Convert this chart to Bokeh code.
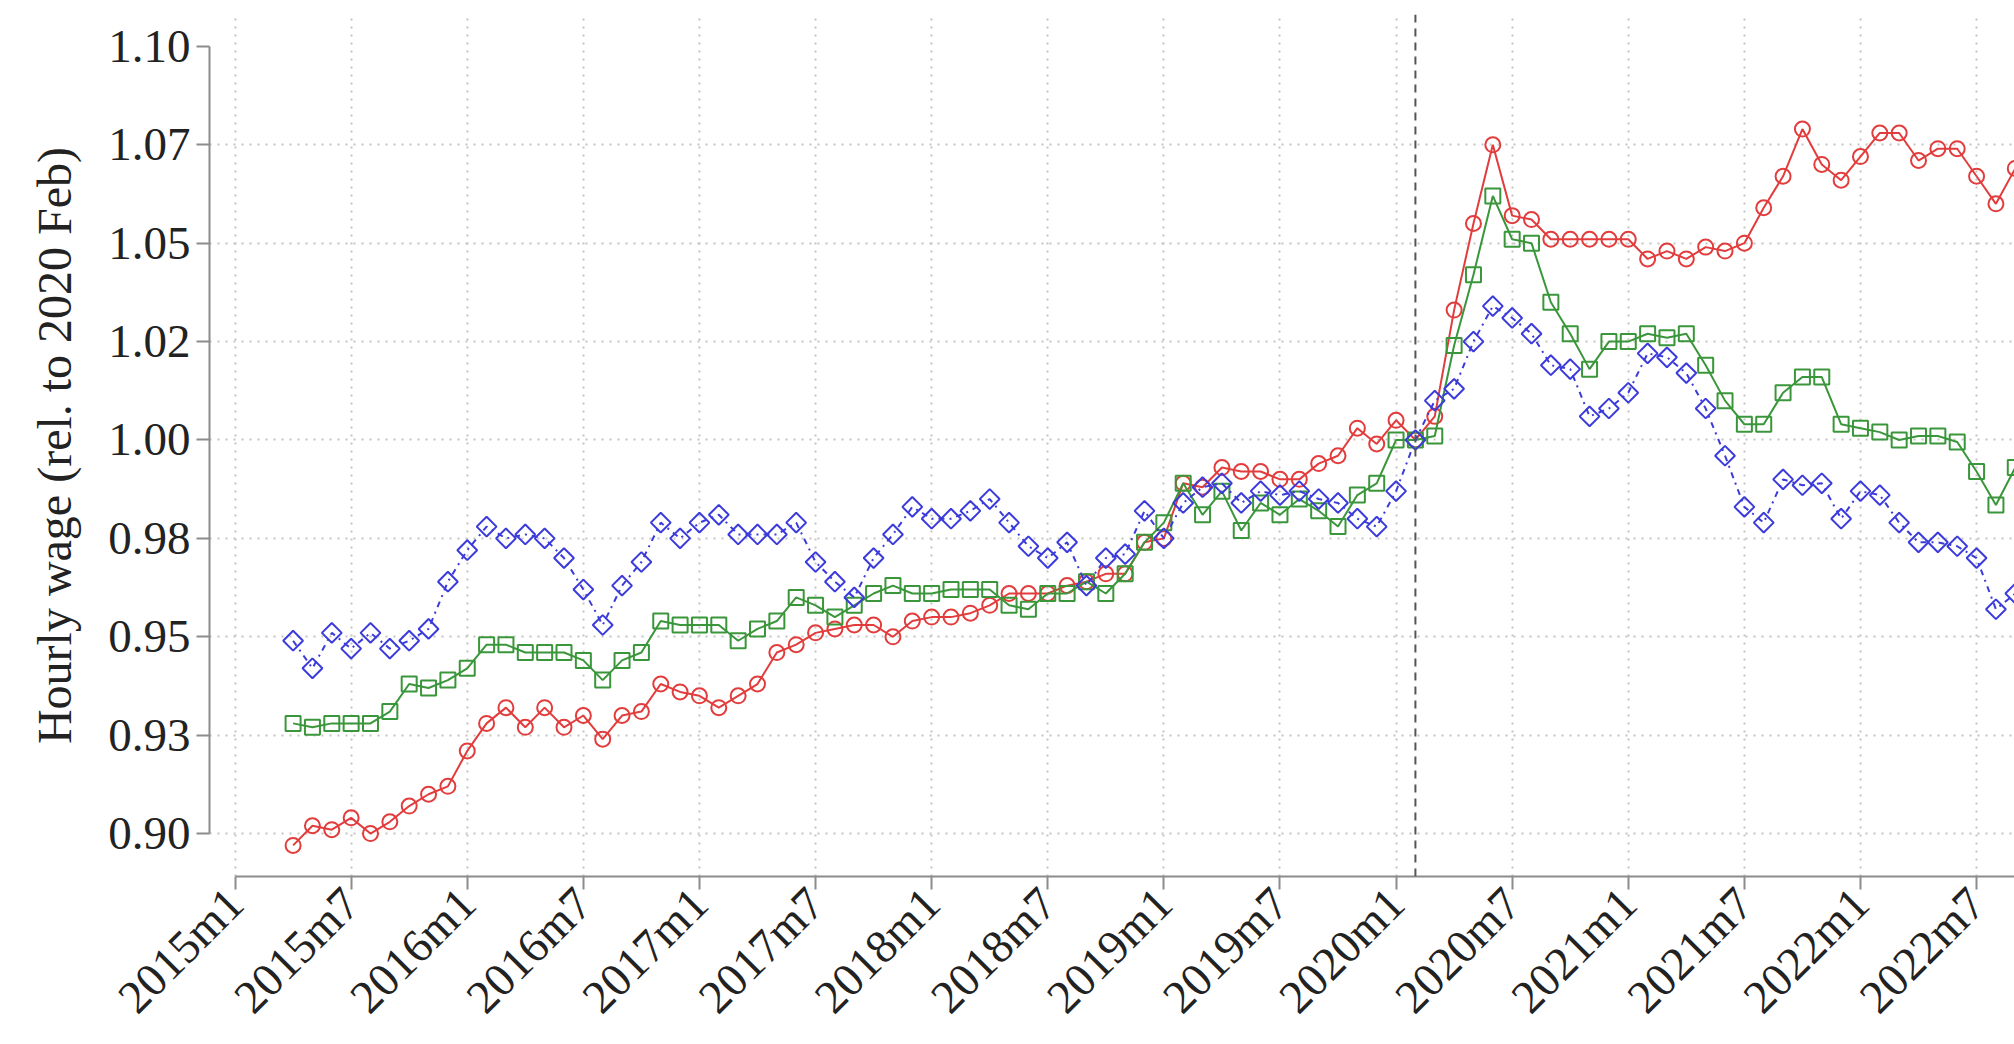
import math
from bokeh.plotting import figure
from bokeh.models import FixedTicker, Range1d, Span
from bokeh.embed import file_html
from bokeh.resources import INLINE

# Monthly hourly wage indices, 2015m4 .. 2022m9, relative to 2020 Feb
first_year, first_month = 2015, 4

red_wage = [
    0.897, 0.902, 0.901, 0.904, 0.900, 0.903, 0.907, 0.910, 0.912,
    0.921, 0.928, 0.932, 0.927, 0.932, 0.927, 0.930, 0.924, 0.930, 0.931, 0.938, 0.936,
    0.935, 0.932, 0.935, 0.938, 0.946, 0.948, 0.951, 0.952, 0.953, 0.953, 0.950, 0.954,
    0.955, 0.955, 0.956, 0.958, 0.961, 0.961, 0.961, 0.963, 0.964, 0.966, 0.966, 0.974,
    0.975, 0.989, 0.988, 0.993, 0.992, 0.992, 0.990, 0.990, 0.994, 0.996, 1.003, 0.999,
    1.005, 1.000, 1.006, 1.033, 1.055, 1.075, 1.057, 1.056, 1.051, 1.051, 1.051, 1.051,
    1.051, 1.046, 1.048, 1.046, 1.049, 1.048, 1.050, 1.059, 1.067, 1.079, 1.070, 1.066,
    1.072, 1.078, 1.078, 1.071, 1.074, 1.074, 1.067, 1.060, 1.069,
]

green_wage = [
    0.928, 0.927, 0.928, 0.928, 0.928, 0.931, 0.938, 0.937, 0.939,
    0.942, 0.948, 0.948, 0.946, 0.946, 0.946, 0.944, 0.939, 0.944, 0.946, 0.954, 0.953,
    0.953, 0.953, 0.949, 0.952, 0.954, 0.960, 0.958, 0.955, 0.958, 0.961, 0.963, 0.961,
    0.961, 0.962, 0.962, 0.962, 0.958, 0.957, 0.961, 0.961, 0.964, 0.961, 0.966, 0.974,
    0.979, 0.989, 0.981, 0.987, 0.977, 0.984, 0.981, 0.985, 0.982, 0.978, 0.986, 0.989,
    1.000, 1.000, 1.001, 1.024, 1.042, 1.062, 1.051, 1.050, 1.035, 1.027, 1.018, 1.025,
    1.025, 1.027, 1.026, 1.027, 1.019, 1.010, 1.004, 1.004, 1.012, 1.016, 1.016, 1.004,
    1.003, 1.002, 1.000, 1.001, 1.001, 0.9995, 0.992, 0.9835, 0.993,
]

blue_wage = [
    0.949, 0.942, 0.951, 0.947, 0.951, 0.947, 0.949, 0.952, 0.964,
    0.972, 0.978, 0.975, 0.976, 0.975, 0.970, 0.962, 0.953, 0.963, 0.969, 0.979, 0.975,
    0.979, 0.981, 0.976, 0.976, 0.976, 0.979, 0.969, 0.964, 0.960, 0.970, 0.976, 0.983,
    0.980, 0.980, 0.982, 0.985, 0.979, 0.973, 0.970, 0.974, 0.963, 0.970, 0.971, 0.982,
    0.975, 0.984, 0.988, 0.989, 0.984, 0.987, 0.986, 0.987, 0.985, 0.984, 0.980, 0.978,
    0.987, 1.000, 1.010, 1.013, 1.025, 1.034, 1.031, 1.027, 1.019, 1.018, 1.006, 1.008,
    1.012, 1.022, 1.021, 1.017, 1.008, 0.996, 0.983, 0.979, 0.990, 0.9885, 0.989, 0.980,
    0.987, 0.986, 0.979, 0.974, 0.974, 0.973, 0.970, 0.957, 0.961,
]

# y ticks and their printed labels
y_ticks = [0.900, 0.925, 0.950, 0.975, 1.000, 1.025, 1.050, 1.075, 1.100]
y_labels = ["0.90", "0.93", "0.95", "0.98", "1.00", "1.02", "1.05", "1.07", "1.10"]

# x ticks every six months, counted in months from 2015m1
x_ticks = list(range(0, 91, 6))
x_labels = [f"{2015 + t // 12}m{t % 12 + 1}" for t in x_ticks]

base_month = (2020 - 2015) * 12 + 1  # 2020m2

start = (first_year - 2015) * 12 + (first_month - 1)
months = [start + i for i in range(len(red_wage))]

FONT = "Liberation Serif"
RED, GREEN, BLUE = "#E23C3C", "#3A963A", "#3B3BDB"

p = figure(
    width=2014, height=1044,
    x_range=Range1d(-1.32, 91.96), y_range=Range1d(0.8891, 1.1081),
    output_backend="svg", toolbar_location=None,
    min_border_left=209, min_border_right=0,
    min_border_top=14, min_border_bottom=158,
)
p.outline_line_color = None
p.background_fill_color = "white"
p.border_fill_color = "white"

# axes
p.yaxis.ticker = FixedTicker(ticks=y_ticks)
p.yaxis.major_label_overrides = {t: s for t, s in zip(y_ticks, y_labels)}
p.yaxis.bounds = (0.9, 1.1)
p.yaxis.axis_label = "Hourly wage (rel. to 2020 Feb)"
p.yaxis.axis_label_text_font = FONT
p.yaxis.axis_label_text_font_style = "normal"
p.yaxis.axis_label_text_font_size = "48px"
p.yaxis.axis_label_text_color = "#222222"
p.yaxis.axis_label_standoff = 24

p.xaxis.ticker = FixedTicker(ticks=x_ticks)
p.xaxis.major_label_overrides = {t: s for t, s in zip(x_ticks, x_labels)}
p.xaxis.bounds = (0, 91.96)
p.xaxis.major_label_orientation = math.pi / 4

for ax in (p.xaxis, p.yaxis):
    ax.major_label_text_font = FONT
    ax.major_label_text_font_size = "47px"
    ax.major_label_text_color = "#222222"
    ax.axis_line_color = "#8c8c8c"
    ax.axis_line_width = 2
    ax.major_tick_line_color = "#8c8c8c"
    ax.major_tick_line_width = 2
    ax.major_tick_out = 13
    ax.major_tick_in = 0
    ax.minor_tick_line_color = None
    ax.major_label_standoff = 6

# dotted grid
p.xgrid.ticker = FixedTicker(ticks=x_ticks)
p.ygrid.ticker = FixedTicker(ticks=y_ticks[:-1])
for g in (p.xgrid, p.ygrid):
    g.grid_line_color = "#c4c4c4"
    g.grid_line_width = 2
    g.grid_line_dash = "2 6"

# reference month
p.add_layout(Span(location=base_month, dimension="height",
                  line_color="#555555", line_width=2, line_dash="8 6"))

# series
p.line(months, red_wage, line_color=RED, line_width=2)
p.scatter(months, red_wage, marker="circle", size=15,
          line_color=RED, line_width=2, fill_alpha=0)

p.line(months, green_wage, line_color=GREEN, line_width=2)
p.scatter(months, green_wage, marker="square", size=15,
          line_color=GREEN, line_width=2, fill_alpha=0)

p.line(months, blue_wage, line_color=BLUE, line_width=2, line_dash="6 5 2 5")
p.scatter(months, blue_wage, marker="square", angle=math.pi / 4, size=14,
          line_color=BLUE, line_width=2, fill_alpha=0)

open("out.html", "w").write(file_html(p, INLINE))
